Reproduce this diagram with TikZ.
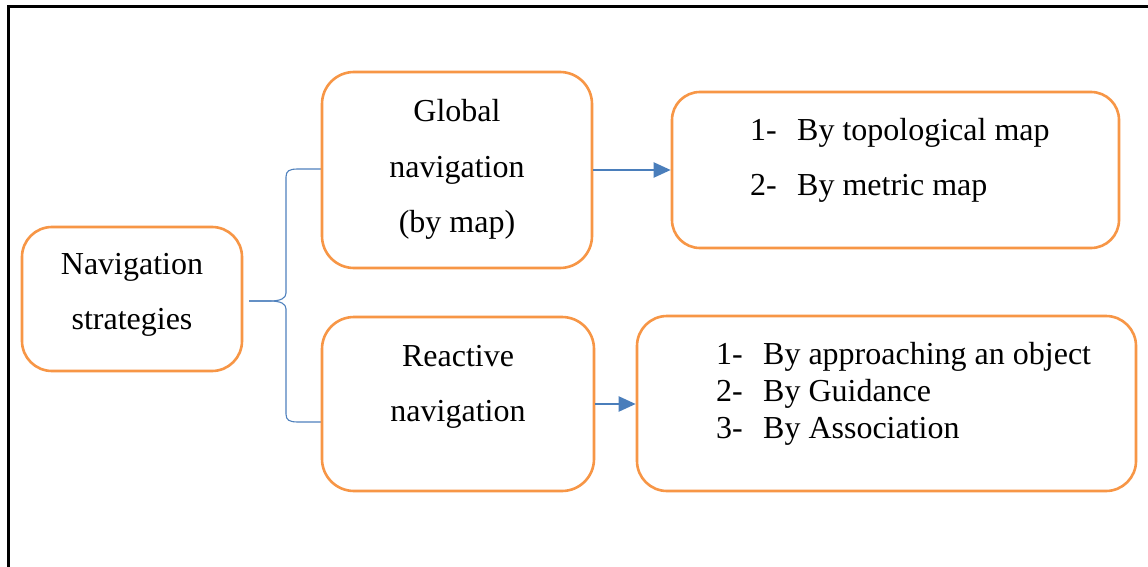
\documentclass[tikz,border=0pt]{standalone}
\usepackage{fontspec}
\setmainfont{Liberation Serif}
\usetikzlibrary{arrows.meta}
\definecolor{boxorange}{HTML}{F79646}
\definecolor{linkblue}{HTML}{4A7EBB}
\definecolor{braceblue}{HTML}{4F81BD}
\begin{document}
\begin{tikzpicture}[x=1pt,y=-1pt,
  roundbox/.style={draw=boxorange, line width=2.6pt, rounded corners=#1, inner sep=0pt, fill=white},
  boxtext/.style={anchor=base, inner sep=0pt, font=\fontsize{32}{37}\selectfont},
  itemtext/.style={anchor=base west, inner sep=0pt, font=\fontsize{32}{37}\selectfont},
  link/.style={draw=linkblue, line width=2.2pt, -{Triangle[length=17pt,width=15pt]}},
  braceline/.style={draw=braceblue, line width=1.1pt}]
\useasboundingbox (0,0) rectangle (1148,567);
\clip (0,0) rectangle (1148,567);
\fill[white] (0,0) rectangle (1148,567);

% outer frame (only top and left edges fall inside the page)
\draw[black, line width=3pt, line join=miter] (1160,6.5) -- (8,6.5) -- (8,580);

% brace joining the root to the two strategy boxes
\coordinate (tip) at (249,301);
\coordinate (gin) at (322,169);
\coordinate (rin) at (322,422);
\draw[braceline] (gin) -- (298,169) .. controls (289,169) and (286,171) .. (286,177)
  -- (286,293) .. controls (286,298) and (281,301) .. (270,301) -- (tip);
\draw[braceline] (tip) -- (270,301) .. controls (281,301) and (286,304) .. (286,309)
  -- (286,414) .. controls (286,420) and (289,422) .. (298,422) -- (rin);

% boxes
\node[roundbox=30pt, minimum width=220pt, minimum height=144pt] (nav) at (132,299) {};
\node[roundbox=32pt, minimum width=270pt, minimum height=196pt] (glob) at (457,170) {};
\node[roundbox=32pt, minimum width=272pt, minimum height=174pt] (react) at (458,404) {};
\node[roundbox=28pt, minimum width=447pt, minimum height=156pt] (topo) at (895.5,170) {};
\node[roundbox=30pt, minimum width=499pt, minimum height=175pt] (assoc) at (886.5,403.5) {};

% arrows
\draw[link] (glob.east) -- (topo.west);
\draw[link] (react.east) -- (react.east -| assoc.west);

% root text
\node[boxtext] (nav1) at (132,274) {Navigation};
\node[boxtext] (nav2) at (132,329) {strategies};

% strategy texts
\node[boxtext] (g1) at (457,122) {Global};
\node[boxtext] (g2) at (457,177) {navigation};
\node[boxtext] (g3) at (457,232) {(by map)};
\node[boxtext] (r1) at (458,366) {Reactive};
\node[boxtext] (r2) at (458,421) {navigation};

% map-based methods
\node[itemtext] (t1) at (750,140) {\makebox[47pt][l]{1-}By topological map};
\node[itemtext] (t2) at (750,195) {\makebox[47pt][l]{2-}By metric map};

% reactive methods
\node[itemtext] (a1) at (716,364) {\makebox[47pt][l]{1-}By approaching an object};
\node[itemtext] (a2) at (716,401) {\makebox[47pt][l]{2-}By Guidance};
\node[itemtext] (a3) at (716,438) {\makebox[47pt][l]{3-}By Association};
\end{tikzpicture}
\end{document}
